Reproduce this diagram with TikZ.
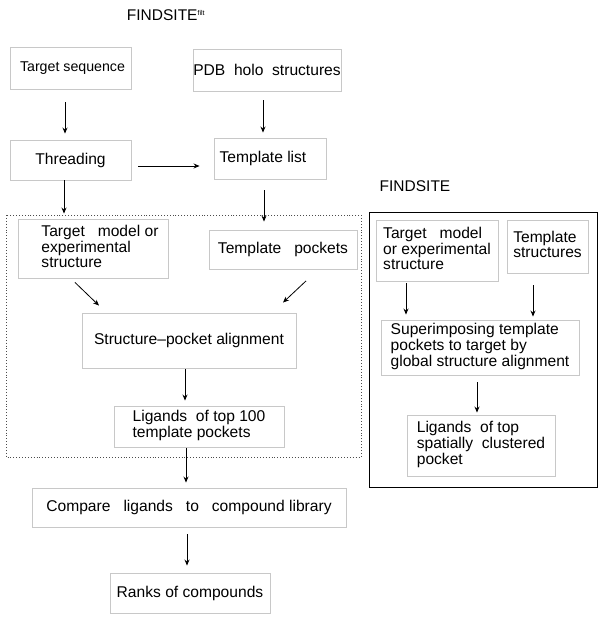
\documentclass[tikz,border=0pt]{standalone}
\usepackage{fontspec}
\setmainfont{Liberation Sans}
\usetikzlibrary{arrows.meta,calc}
\definecolor{boxgray}{RGB}{200,200,200}
\tikzset{
  box/.style={draw=boxgray, line width=0.9pt, inner sep=0pt, align=left,
    font=\fontsize{15.6}{15.6}\selectfont},
  arr/.style={-{Stealth[length=6pt,width=5pt]}, line width=0.8pt, black},
  ttl/.style={font=\fontsize{15.5}{16}\selectfont, inner sep=0pt}
}
\begin{document}
\begin{tikzpicture}[x=1pt,y=-1pt]
\useasboundingbox (0,0) rectangle (602,619);
% titles
\node[ttl] (t1) at (166,15) {FINDSITE\textsuperscript{\fontsize{7}{7}\selectfont filt}};
\node[ttl] (t2) at (415,186) {FINDSITE};
% group frames
\draw[dotted, line width=0.9pt, black!70] (6,215) rectangle (361,457);
\draw[line width=1pt, black] (369,212) rectangle (597,487);
% left flow
\node[box, minimum width=121pt, minimum height=42pt, font=\fontsize{14.2}{15}\selectfont] (ts) at (70.5,68) {\hspace{4pt}Target sequence};
\node[box, minimum width=148pt, minimum height=42pt] (pdb) at (267,70) {PDB\ \ holo\ \ structures};
\node[box, minimum width=121pt, minimum height=40pt] (th) at (70.5,160) {Threading};
\node[box, minimum width=112pt, minimum height=41pt] (tl) at (270,158.5) {\raisebox{4pt}{Template list}\hspace{14pt}};
\node[box, minimum width=150pt, minimum height=59pt] (tm) at (93,248.5) {\hspace{14pt}\begin{tabular}{@{}l@{}}Target\ \ \ model or\\experimental\\structure\end{tabular}};
\node[box, minimum width=148pt, minimum height=39pt] (tp) at (283,249.5) {Template\ \ \ pockets};
\node[box, minimum width=214pt, minimum height=55pt] (spa) at (189,340.5) {Structure--pocket alignment};
\node[box, minimum width=170pt, minimum height=41pt] (lig) at (199,426.5) {\begin{tabular}{@{}l@{}}Ligands\ \ of top 100\\template pockets\end{tabular}};
\node[box, minimum width=314pt, minimum height=39pt] (cmp) at (189,507.5) {Compare\ \ \ ligands\ \ \ to\ \ \ compound library};
\node[box, minimum width=160pt, minimum height=40pt] (rk) at (190,593) {Ranks of compounds};
% right flow
\node[box, minimum width=122pt, minimum height=61pt] (rtm) at (437,250.5) {\begin{tabular}{@{}l@{}}Target\ \ \ model\\or experimental\\structure\end{tabular}};
\node[box, minimum width=81pt, minimum height=53pt] (rts) at (547.5,246.5) {\begin{tabular}{@{}l@{}}Template\\structures\end{tabular}};
\node[box, minimum width=198pt, minimum height=55pt] (sup) at (480,347.5) {\begin{tabular}{@{}l@{}}Superimposing template\\pockets to target by\\global structure alignment\end{tabular}};
\node[box, minimum width=148pt, minimum height=61pt] (rl) at (481,445.5) {\begin{tabular}{@{}l@{}}Ligands\ \ of top\\spatially\ \ clustered\\pocket\end{tabular}};
% connectors left
\draw[arr] ([xshift=-5.5pt,yshift=-13pt]ts.south) -- ([xshift=-5.5pt,yshift=6pt]th.north);
\draw[arr] ([xshift=-4pt,yshift=-9pt]pdb.south) -- ([xshift=-7pt,yshift=5pt]tl.north);
\draw[arr] ([xshift=7pt,yshift=-6pt]th.east) -- ([xshift=-14pt,yshift=-7.5pt]tl.west);
\draw[arr] ([xshift=-6.5pt]th.south) -- ([xshift=-29pt,yshift=5pt]tm.north);
\draw[arr] ([xshift=-6pt,yshift=-11pt]tl.south) -- ([xshift=-19pt,yshift=8pt]tp.north);
\draw[arr] ([xshift=-18pt,yshift=-4pt]tm.south) -- ([xshift=-90pt,yshift=7pt]spa.north);
\draw[arr] ([xshift=23pt,yshift=-11.5pt]tp.south) -- ([xshift=94pt,yshift=10pt]spa.north);
\draw[arr] ([xshift=-4pt,yshift=-1pt]spa.south) -- ([xshift=-14pt,yshift=5pt]lig.north);
\draw[arr] ([xshift=-13pt,yshift=-1pt]lig.south) -- ([xshift=-3pt,yshift=5pt]cmp.north);
\draw[arr] ([xshift=-2pt,yshift=-7pt]cmp.south) -- ([xshift=-3pt,yshift=7pt]rk.north);
% connectors right
\draw[arr] ([xshift=-31pt,yshift=-2pt]rtm.south) -- ([xshift=-74pt,yshift=5pt]sup.north);
\draw[arr] ([xshift=-14.5pt,yshift=-12pt]rts.south) -- ([xshift=53pt,yshift=3pt]sup.north);
\draw[arr] ([xshift=-3pt,yshift=-7pt]sup.south) -- ([xshift=-4pt,yshift=2pt]rl.north);
\end{tikzpicture}
\end{document}
